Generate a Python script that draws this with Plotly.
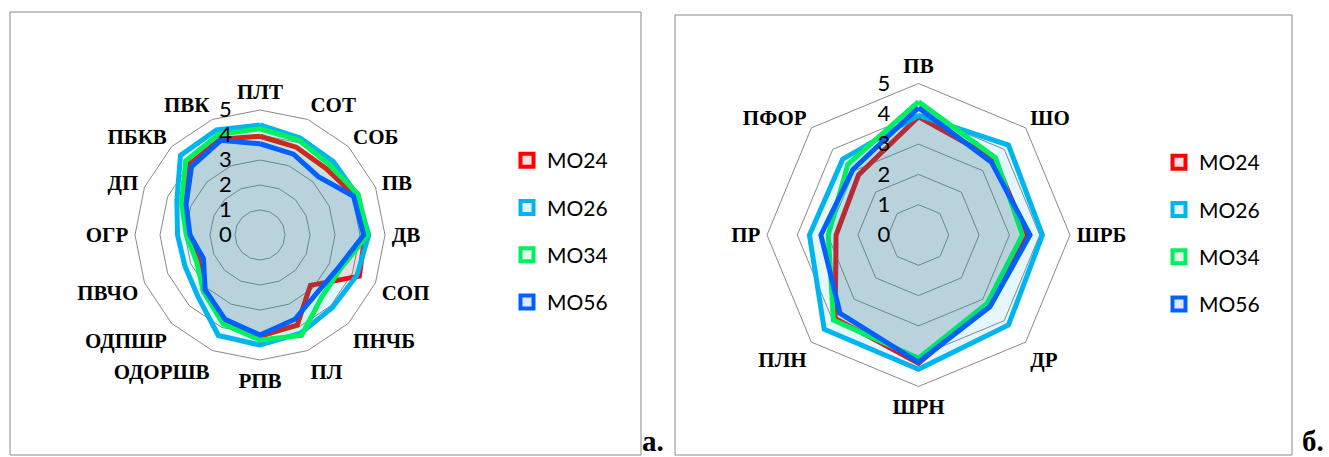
import plotly.graph_objects as go

# ---- data: panel a ----
cats_a = ["ПЛТ", "СОТ", "СОБ", "ПВ", "ДВ", "СОП", "ПНЧБ", "ПЛ", "РПВ", "ОДОРШВ",
          "ОДПШР", "ПВЧО", "ОГР", "ДП", "ПБКВ", "ПВК"]
mo24_a = [3.95, 3.8, 3.75, 4.1, 4.2, 4.3, 2.85, 3.9, 4.05, 3.7, 3.2, 2.65, 2.9, 3.3, 4.0, 4.15]
mo26_a = [4.4, 4.2, 4.15, 4.2, 4.35, 4.2, 4.1, 4.25, 4.4, 4.35, 3.5, 3.25, 3.3, 3.6, 4.5, 4.55]
mo34_a = [4.25, 4.1, 3.95, 4.25, 4.3, 3.5, 3.5, 4.35, 4.2, 3.85, 3.2, 2.75, 2.95, 3.4, 4.2, 4.35]
mo56_a = [3.65, 3.5, 3.3, 4.05, 4.15, 3.4, 3.25, 3.65, 4.0, 3.65, 3.1, 2.45, 2.8, 3.2, 3.87, 4.1]

# ---- data: panel b ----
cats_b = ["ПВ", "ШО", "ШРБ", "ДР", "ШРН", "ПЛН", "ПР", "ПФОР"]
mo24_b = [3.9, 3.55, 3.57, 3.25, 4.23, 3.89, 2.72, 2.8]
mo26_b = [3.95, 4.2, 4.09, 4.2, 4.43, 4.4, 3.6, 3.54]
mo34_b = [4.4, 3.6, 3.43, 3.2, 4.07, 3.97, 2.98, 3.3]
mo56_b = [4.2, 3.4, 3.68, 3.34, 4.2, 3.66, 3.22, 3.06]

series_names = ["МО24", "МО26", "МО34", "МО56"]
radial_ticks = [0, 1, 2, 3, 4, 5]

colors = ["#ff0000", "#00b4f0", "#00f060", "#0060ff"]
fills = ["rgba(255,0,0,0.10)", "rgba(0,180,240,0.10)", "rgba(0,240,96,0.10)", "rgba(0,96,255,0.10)"]
legend_fill = ["#ffe0e0", "#e0f4fc", "#e0fde8", "#e0e8ff"]

W, H = 1329, 457
fig = go.Figure()

def add_panel(cats, data, polar, legend):
    for i, (name, vals) in enumerate(zip(series_names, data)):
        fig.add_trace(go.Scatterpolar(
            r=vals + vals[:1], theta=cats + cats[:1], subplot=polar,
            mode="lines", fill="toself", fillcolor=fills[i],
            line=dict(color=colors[i], width=5, shape="linear"),
            showlegend=False, hoverinfo="skip"))
    for i, name in enumerate(series_names):
        fig.add_trace(go.Scatterpolar(
            r=[None], theta=[cats[0]], subplot=polar, mode="markers", name=name,
            marker=dict(symbol="square", size=13, color=legend_fill[i],
                        line=dict(color=colors[i], width=4)),
            legend=legend, legendgroup=legend + name, showlegend=True))

add_panel(cats_a, [mo24_a, mo26_a, mo34_a, mo56_a], "polar", "legend")
add_panel(cats_b, [mo24_b, mo26_b, mo34_b, mo56_b], "polar2", "legend2")

def polar_layout(cx, cy, R):
    ycb = H - cy
    return dict(
        domain=dict(x=[(cx - R) / W, (cx + R) / W], y=[(ycb - R) / H, (ycb + R) / H]),
        gridshape="linear", bgcolor="white", hole=0,
        radialaxis=dict(range=[0, 5], tickvals=radial_ticks, angle=90, side="counterclockwise",
                        showline=False, gridcolor="#8a8a8a", gridwidth=1,
                        ticks="outside", ticklen=20, tickcolor="rgba(0,0,0,0)",
                        tickfont=dict(family="Lato", size=22, color="black"), tickangle=90),
        angularaxis=dict(direction="clockwise", rotation=90, showgrid=False,
                         showline=True, linecolor="#8a8a8a", linewidth=1,
                         ticks="outside", ticklen=2, tickcolor="rgba(0,0,0,0)",
                         tickfont=dict(family="Liberation Serif", size=21, color="black",
                                       weight="bold")))

legend_common = dict(font=dict(family="Lato", size=21, color="black"), bgcolor="rgba(0,0,0,0)",
                     tracegroupgap=17, xanchor="left", yanchor="top",
                     itemwidth=30)

fig.update_layout(
    width=W, height=H, margin=dict(l=0, r=0, t=0, b=0),
    paper_bgcolor="white", plot_bgcolor="white",
    polar=polar_layout(260, 235, 125),
    polar2=polar_layout(918.5, 235, 151.5),
    legend=dict(x=507 / W, y=1 - 140 / H, **legend_common),
    legend2=dict(x=1159 / W, y=1 - 142 / H, **legend_common),
    shapes=[
        dict(type="rect", xref="paper", yref="paper", x0=10 / W, x1=641 / W,
             y0=1 - 455 / H, y1=1 - 12 / H, line=dict(color="#8a8a8a", width=1)),
        dict(type="rect", xref="paper", yref="paper", x0=675 / W, x1=1292 / W,
             y0=1 - 455 / H, y1=1 - 15 / H, line=dict(color="#8a8a8a", width=1)),
    ],
    annotations=[
        dict(text="<b>а.</b>", xref="paper", yref="paper", x=640 / W, y=1 - 459 / H,
             xanchor="left", yanchor="bottom", showarrow=False,
             font=dict(family="Liberation Serif", size=29, color="black")),
        dict(text="<b>б.</b>", xref="paper", yref="paper", x=1300 / W, y=1 - 459 / H,
             xanchor="left", yanchor="bottom", showarrow=False,
             font=dict(family="Liberation Serif", size=29, color="black")),
    ],
)

fig.write_html("out.html")
